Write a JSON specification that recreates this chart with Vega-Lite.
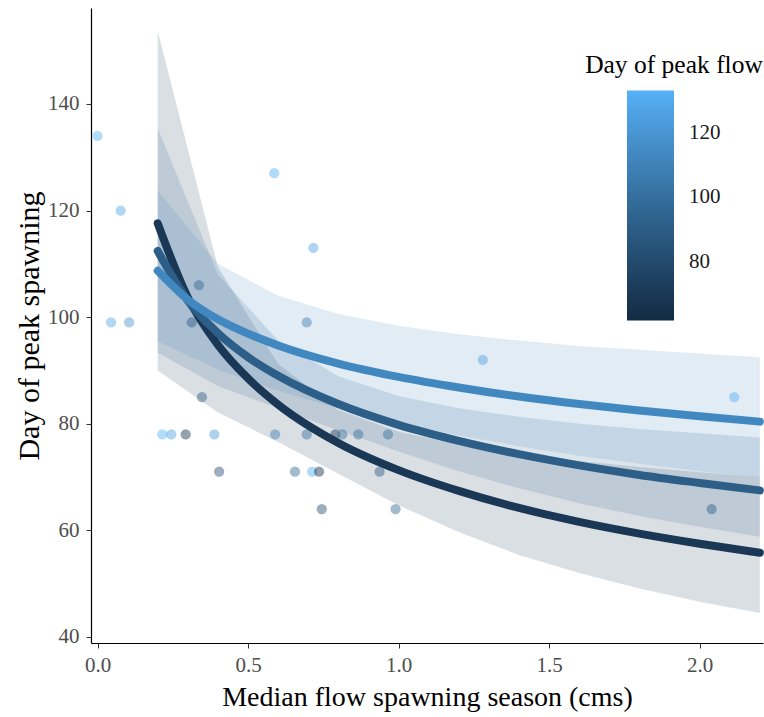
{
  "$schema": "https://vega.github.io/schema/vega-lite/v6.json",
  "width": 672,
  "height": 635,
  "autosize": {"type": "none"},
  "padding": {"left": 91, "top": 8, "right": 1, "bottom": 74},
  "background": "white",
  "config": {
    "view": {"stroke": null},
    "font": "Liberation Serif",
    "axis": {"grid": false, "domainColor": "#000000", "domainWidth": 1.2, "tickColor": "#333333", "tickSize": 5, "tickWidth": 1,
      "labelFont": "Liberation Serif", "labelFontSize": 21, "labelColor": "#4d4d4d", "titleFont": "Liberation Serif", "titleFontWeight": "normal", "titleColor": "#000000"}
  },
  "datasets": {
    "pts": [
      {"x": 0.0, "y": 134, "pf": 133},
      {"x": 0.077, "y": 120, "pf": 128},
      {"x": 0.045, "y": 99, "pf": 128},
      {"x": 0.105, "y": 99, "pf": 118},
      {"x": 0.587, "y": 127, "pf": 130},
      {"x": 0.717, "y": 113, "pf": 125},
      {"x": 0.337, "y": 106, "pf": 95},
      {"x": 0.313, "y": 99, "pf": 88},
      {"x": 0.695, "y": 99, "pf": 108},
      {"x": 0.347, "y": 85, "pf": 88},
      {"x": 1.28, "y": 92, "pf": 125},
      {"x": 2.115, "y": 85, "pf": 132},
      {"x": 2.04, "y": 64, "pf": 90},
      {"x": 0.215, "y": 78, "pf": 133},
      {"x": 0.245, "y": 78, "pf": 125},
      {"x": 0.293, "y": 78, "pf": 64},
      {"x": 0.388, "y": 78, "pf": 122},
      {"x": 0.59, "y": 78, "pf": 108},
      {"x": 0.695, "y": 78, "pf": 100},
      {"x": 0.79, "y": 78, "pf": 70},
      {"x": 0.813, "y": 78, "pf": 100},
      {"x": 0.866, "y": 78, "pf": 100},
      {"x": 0.965, "y": 78, "pf": 100},
      {"x": 0.404, "y": 71, "pf": 82},
      {"x": 0.656, "y": 71, "pf": 95},
      {"x": 0.713, "y": 71, "pf": 130},
      {"x": 0.736, "y": 71, "pf": 62},
      {"x": 0.937, "y": 71, "pf": 88},
      {"x": 0.745, "y": 64, "pf": 80},
      {"x": 0.99, "y": 64, "pf": 95}
    ],
    "fits": [
      {"g": "a", "pf": 70, "x": 0.2, "y": 117.6}, {"g": "a", "pf": 70, "x": 0.3, "y": 103.7}, {"g": "a", "pf": 70, "x": 0.4, "y": 94.8},
      {"g": "a", "pf": 70, "x": 0.5, "y": 88.5}, {"g": "a", "pf": 70, "x": 0.6, "y": 83.6}, {"g": "a", "pf": 70, "x": 0.8, "y": 76.4},
      {"g": "a", "pf": 70, "x": 1.0, "y": 71.3}, {"g": "a", "pf": 70, "x": 1.2, "y": 67.4}, {"g": "a", "pf": 70, "x": 1.4, "y": 64.2},
      {"g": "a", "pf": 70, "x": 1.6, "y": 61.6}, {"g": "a", "pf": 70, "x": 1.8, "y": 59.4}, {"g": "a", "pf": 70, "x": 2.0, "y": 57.5},
      {"g": "a", "pf": 70, "x": 2.2, "y": 55.8},
      {"g": "b", "pf": 91, "x": 0.2, "y": 112.4}, {"g": "b", "pf": 91, "x": 0.3, "y": 103.1}, {"g": "b", "pf": 91, "x": 0.4, "y": 97.0},
      {"g": "b", "pf": 91, "x": 0.5, "y": 92.5}, {"g": "b", "pf": 91, "x": 0.6, "y": 89.0}, {"g": "b", "pf": 91, "x": 0.8, "y": 83.7},
      {"g": "b", "pf": 91, "x": 1.0, "y": 79.8}, {"g": "b", "pf": 91, "x": 1.2, "y": 76.8}, {"g": "b", "pf": 91, "x": 1.4, "y": 74.3},
      {"g": "b", "pf": 91, "x": 1.6, "y": 72.2}, {"g": "b", "pf": 91, "x": 1.8, "y": 70.4}, {"g": "b", "pf": 91, "x": 2.0, "y": 68.9},
      {"g": "b", "pf": 91, "x": 2.2, "y": 67.5},
      {"g": "c", "pf": 113, "x": 0.2, "y": 108.7}, {"g": "c", "pf": 113, "x": 0.3, "y": 103.3}, {"g": "c", "pf": 113, "x": 0.4, "y": 99.6},
      {"g": "c", "pf": 113, "x": 0.5, "y": 96.9}, {"g": "c", "pf": 113, "x": 0.6, "y": 94.7}, {"g": "c", "pf": 113, "x": 0.8, "y": 91.3},
      {"g": "c", "pf": 113, "x": 1.0, "y": 88.8}, {"g": "c", "pf": 113, "x": 1.2, "y": 86.8}, {"g": "c", "pf": 113, "x": 1.4, "y": 85.1},
      {"g": "c", "pf": 113, "x": 1.6, "y": 83.7}, {"g": "c", "pf": 113, "x": 1.8, "y": 82.5}, {"g": "c", "pf": 113, "x": 2.0, "y": 81.4},
      {"g": "c", "pf": 113, "x": 2.2, "y": 80.4}
    ],
    "bands": [
      {"g": "a", "pf": 70, "x": 0.2, "lo": 90.0, "hi": 153.7}, {"g": "a", "pf": 70, "x": 0.4, "lo": 82.1, "hi": 109.4},
      {"g": "a", "pf": 70, "x": 0.6, "lo": 76.6, "hi": 91.2}, {"g": "a", "pf": 70, "x": 0.8, "lo": 70.6, "hi": 82.6},
      {"g": "a", "pf": 70, "x": 1.0, "lo": 64.7, "hi": 78.5}, {"g": "a", "pf": 70, "x": 1.2, "lo": 59.7, "hi": 76.1},
      {"g": "a", "pf": 70, "x": 1.4, "lo": 55.4, "hi": 74.3}, {"g": "a", "pf": 70, "x": 1.6, "lo": 52.0, "hi": 73.0},
      {"g": "a", "pf": 70, "x": 1.8, "lo": 49.1, "hi": 71.9}, {"g": "a", "pf": 70, "x": 2.0, "lo": 46.6, "hi": 70.9},
      {"g": "a", "pf": 70, "x": 2.2, "lo": 44.5, "hi": 70.0},
      {"g": "b", "pf": 91, "x": 0.2, "lo": 93.3, "hi": 135.4}, {"g": "b", "pf": 91, "x": 0.4, "lo": 87.1, "hi": 108.0},
      {"g": "b", "pf": 91, "x": 0.6, "lo": 82.9, "hi": 95.6}, {"g": "b", "pf": 91, "x": 0.8, "lo": 78.8, "hi": 88.9},
      {"g": "b", "pf": 91, "x": 1.0, "lo": 74.8, "hi": 85.2}, {"g": "b", "pf": 91, "x": 1.2, "lo": 71.1, "hi": 82.9},
      {"g": "b", "pf": 91, "x": 1.4, "lo": 67.9, "hi": 81.3}, {"g": "b", "pf": 91, "x": 1.6, "lo": 65.1, "hi": 80.0},
      {"g": "b", "pf": 91, "x": 1.8, "lo": 62.7, "hi": 79.0}, {"g": "b", "pf": 91, "x": 2.0, "lo": 60.7, "hi": 78.2},
      {"g": "b", "pf": 91, "x": 2.2, "lo": 58.8, "hi": 77.4},
      {"g": "c", "pf": 113, "x": 0.2, "lo": 95.5, "hi": 123.7}, {"g": "c", "pf": 113, "x": 0.4, "lo": 90.2, "hi": 110.0},
      {"g": "c", "pf": 113, "x": 0.6, "lo": 86.2, "hi": 104.0}, {"g": "c", "pf": 113, "x": 0.8, "lo": 82.9, "hi": 100.6},
      {"g": "c", "pf": 113, "x": 1.0, "lo": 80.1, "hi": 98.4}, {"g": "c", "pf": 113, "x": 1.2, "lo": 77.8, "hi": 96.8},
      {"g": "c", "pf": 113, "x": 1.4, "lo": 75.8, "hi": 95.6}, {"g": "c", "pf": 113, "x": 1.6, "lo": 74.0, "hi": 94.6},
      {"g": "c", "pf": 113, "x": 1.8, "lo": 72.5, "hi": 93.9}, {"g": "c", "pf": 113, "x": 2.0, "lo": 71.1, "hi": 93.2},
      {"g": "c", "pf": 113, "x": 2.2, "lo": 69.9, "hi": 92.5}
    ]
  },
  "layer": [
    {
      "data": {"name": "bands"},
      "mark": {"type": "area", "fillOpacity": 0.16, "interpolate": "linear"},
      "encoding": {
        "x": {"field": "x", "type": "quantitative", "scale": {"domain": [-0.0216, 2.2106], "nice": false, "zero": false},
          "axis": {"values": [0, 0.5, 1, 1.5, 2], "format": ".1f", "labelFlush": false, "labelPadding": 6, "title": "Median flow spawning season (cms)", "titleFontSize": 28, "titlePadding": 8}},
        "y": {"field": "lo", "type": "quantitative", "scale": {"domain": [38.87, 158.0], "nice": false, "zero": false},
          "axis": {"values": [40, 60, 80, 100, 120, 140], "labelPadding": 7, "title": "Day of peak spawning", "titleFontSize": 30, "titlePadding": 3}},
        "y2": {"field": "hi"},
        "detail": {"field": "g"},
        "fill": {"field": "pf", "type": "quantitative",
          "scale": {"domain": [62, 133.001], "range": ["#132B43", "#56B1F7"], "interpolate": "lab"}, "legend": null}
      }
    },
    {
      "data": {"name": "pts"},
      "mark": {"type": "circle", "size": 105, "opacity": 1, "fillOpacity": 0.45},
      "encoding": {
        "x": {"field": "x", "type": "quantitative"},
        "y": {"field": "y", "type": "quantitative"},
        "color": {"field": "pf", "type": "quantitative",
          "scale": {"domain": [62, 133], "range": ["#132B43", "#56B1F7"], "interpolate": "lab"},
          "legend": {"type": "gradient", "title": "Day of peak flow", "orient": "none", "legendX": 494, "legendY": 45, "direction": "vertical",
            "gradientLength": 230, "gradientThickness": 47, "gradientStrokeWidth": 0, "values": [80, 100, 120],
            "labelFont": "Liberation Serif", "labelFontSize": 21, "labelColor": "#1a1a1a", "labelOffset": 15,
            "titleFont": "Liberation Serif", "titleFontSize": 25.5, "titleFontWeight": "normal", "titleColor": "#000000",
            "titleAnchor": "middle", "titlePadding": 12, "padding": 0}}
      }
    },
    {
      "data": {"name": "fits"},
      "mark": {"type": "line", "strokeWidth": 8, "strokeCap": "round", "interpolate": "monotone"},
      "encoding": {
        "x": {"field": "x", "type": "quantitative"},
        "y": {"field": "y", "type": "quantitative"},
        "detail": {"field": "g"},
        "stroke": {"field": "pf", "type": "quantitative",
          "scale": {"domain": [62, 133.002], "range": ["#132B43", "#56B1F7"], "interpolate": "lab"}, "legend": null}
      }
    }
  ]
}
